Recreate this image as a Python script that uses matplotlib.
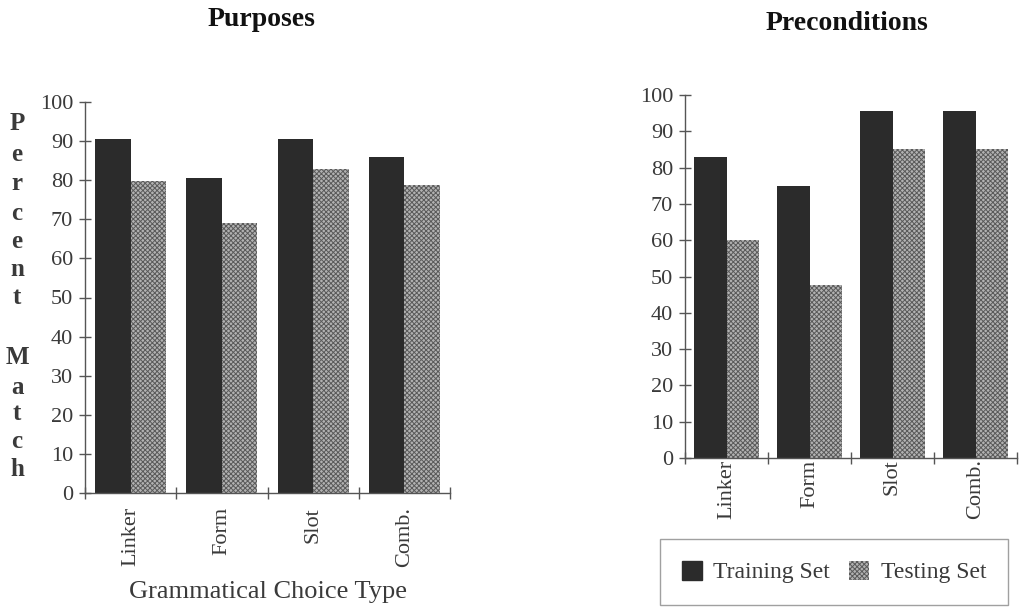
import matplotlib
matplotlib.use("Agg")
import matplotlib.pyplot as plt
import numpy as np
from matplotlib.patches import Patch

categories = ["Linker", "Form", "Slot", "Comb."]
purposes_train = [90.5, 80.6, 90.5, 85.9]
purposes_test = [79.8, 69.0, 82.8, 78.8]
precond_train = [83.0, 74.8, 95.6, 95.6]
precond_test = [60.1, 47.7, 85.2, 85.2]
yticks = [0, 10, 20, 30, 40, 50, 60, 70, 80, 90, 100]
series_names = ["Training Set", "Testing Set"]

FONT = ["Liberation Serif", "DejaVu Serif"]
plt.rcParams["font.family"] = FONT
plt.rcParams["hatch.linewidth"] = 0.7

TXT = "#3a3a3a"
AX = "#555555"
DARK = "#2b2b2b"
LIGHT = "#b2b2b2"
HATCH = "#5a5a5a"

W, H = 1023, 608
fig = plt.figure(figsize=(W / 100, H / 100), dpi=100)


def frac(x0, y0, x1, y1):
    return [x0 / W, (H - y1) / H, (x1 - x0) / W, (y1 - y0) / H]


def draw(ax, train, test, label_pad):
    x = np.arange(len(categories)) + 0.5
    bw = 0.39
    ax.bar(x - bw / 2, train, bw, color=DARK, edgecolor=DARK, linewidth=0)
    ax.bar(x + bw / 2, test, bw, facecolor=LIGHT, edgecolor=HATCH, hatch="xxxxxxx", linewidth=0)
    ax.set_xlim(0, len(categories))
    ax.set_ylim(0, 100)
    ax.set_yticks(yticks)
    ax.set_yticklabels([str(t) for t in yticks])
    ax.set_xticks(np.arange(len(categories) + 1))
    ax.set_xticklabels([])
    ax.set_xticks(x, minor=True)
    ax.set_xticklabels(categories, minor=True, rotation=90)
    for s in ["top", "right"]:
        ax.spines[s].set_visible(False)
    for s in ["left", "bottom"]:
        ax.spines[s].set_color(AX)
        ax.spines[s].set_linewidth(1.0)
    ax.tick_params(axis="y", direction="inout", length=9, width=1.0, color=AX,
                   labelsize=16, labelcolor=TXT, pad=4)
    ax.tick_params(axis="x", which="major", direction="inout", length=9, width=1.0, color=AX)
    ax.tick_params(axis="x", which="minor", length=0, labelsize=16, labelcolor=TXT, pad=label_pad)


ax1 = fig.add_axes(frac(85, 102, 450, 493))
draw(ax1, purposes_train, purposes_test, 10)
ax2 = fig.add_axes(frac(685, 95, 1017, 458))
draw(ax2, precond_train, precond_test, 1)

fig.text(262 / W, 1 - 20 / H, "Purposes", ha="center", va="center",
         fontsize=20, fontweight="bold", color="#111111")
fig.text(847 / W, 1 - 23 / H, "Preconditions", ha="center", va="center",
         fontsize=20, fontweight="bold", color="#111111")
fig.text(268 / W, 1 - 592 / H, "Grammatical Choice Type", ha="center", va="center",
         fontsize=19, color=TXT)

letters = ["P", "e", "r", "c", "e", "n", "t", "M", "a", "t", "c", "h"]
ys = [123, 155, 183, 213, 242, 270, 298, 357, 387, 413, 442, 470]
for ch, yy in zip(letters, ys):
    fig.text(17 / W, 1 - yy / H, ch, ha="center", va="center",
             fontsize=18, fontweight="bold", color=TXT)

handles = [Patch(facecolor=DARK, edgecolor=DARK),
           Patch(facecolor=LIGHT, edgecolor=HATCH, hatch="xxxxxxx", linewidth=0)]
leg = fig.legend(handles, series_names, loc="center",
                 bbox_to_anchor=(834 / W, 1 - 572 / H), ncol=2, fontsize=17,
                 frameon=True, fancybox=False, edgecolor="#888888",
                 handlelength=0.85, handleheight=0.85, handletextpad=0.5,
                 columnspacing=0.8, borderpad=0.9, labelcolor=TXT)
leg.get_frame().set_linewidth(1.0)

fig.savefig("out.png", dpi=100)
